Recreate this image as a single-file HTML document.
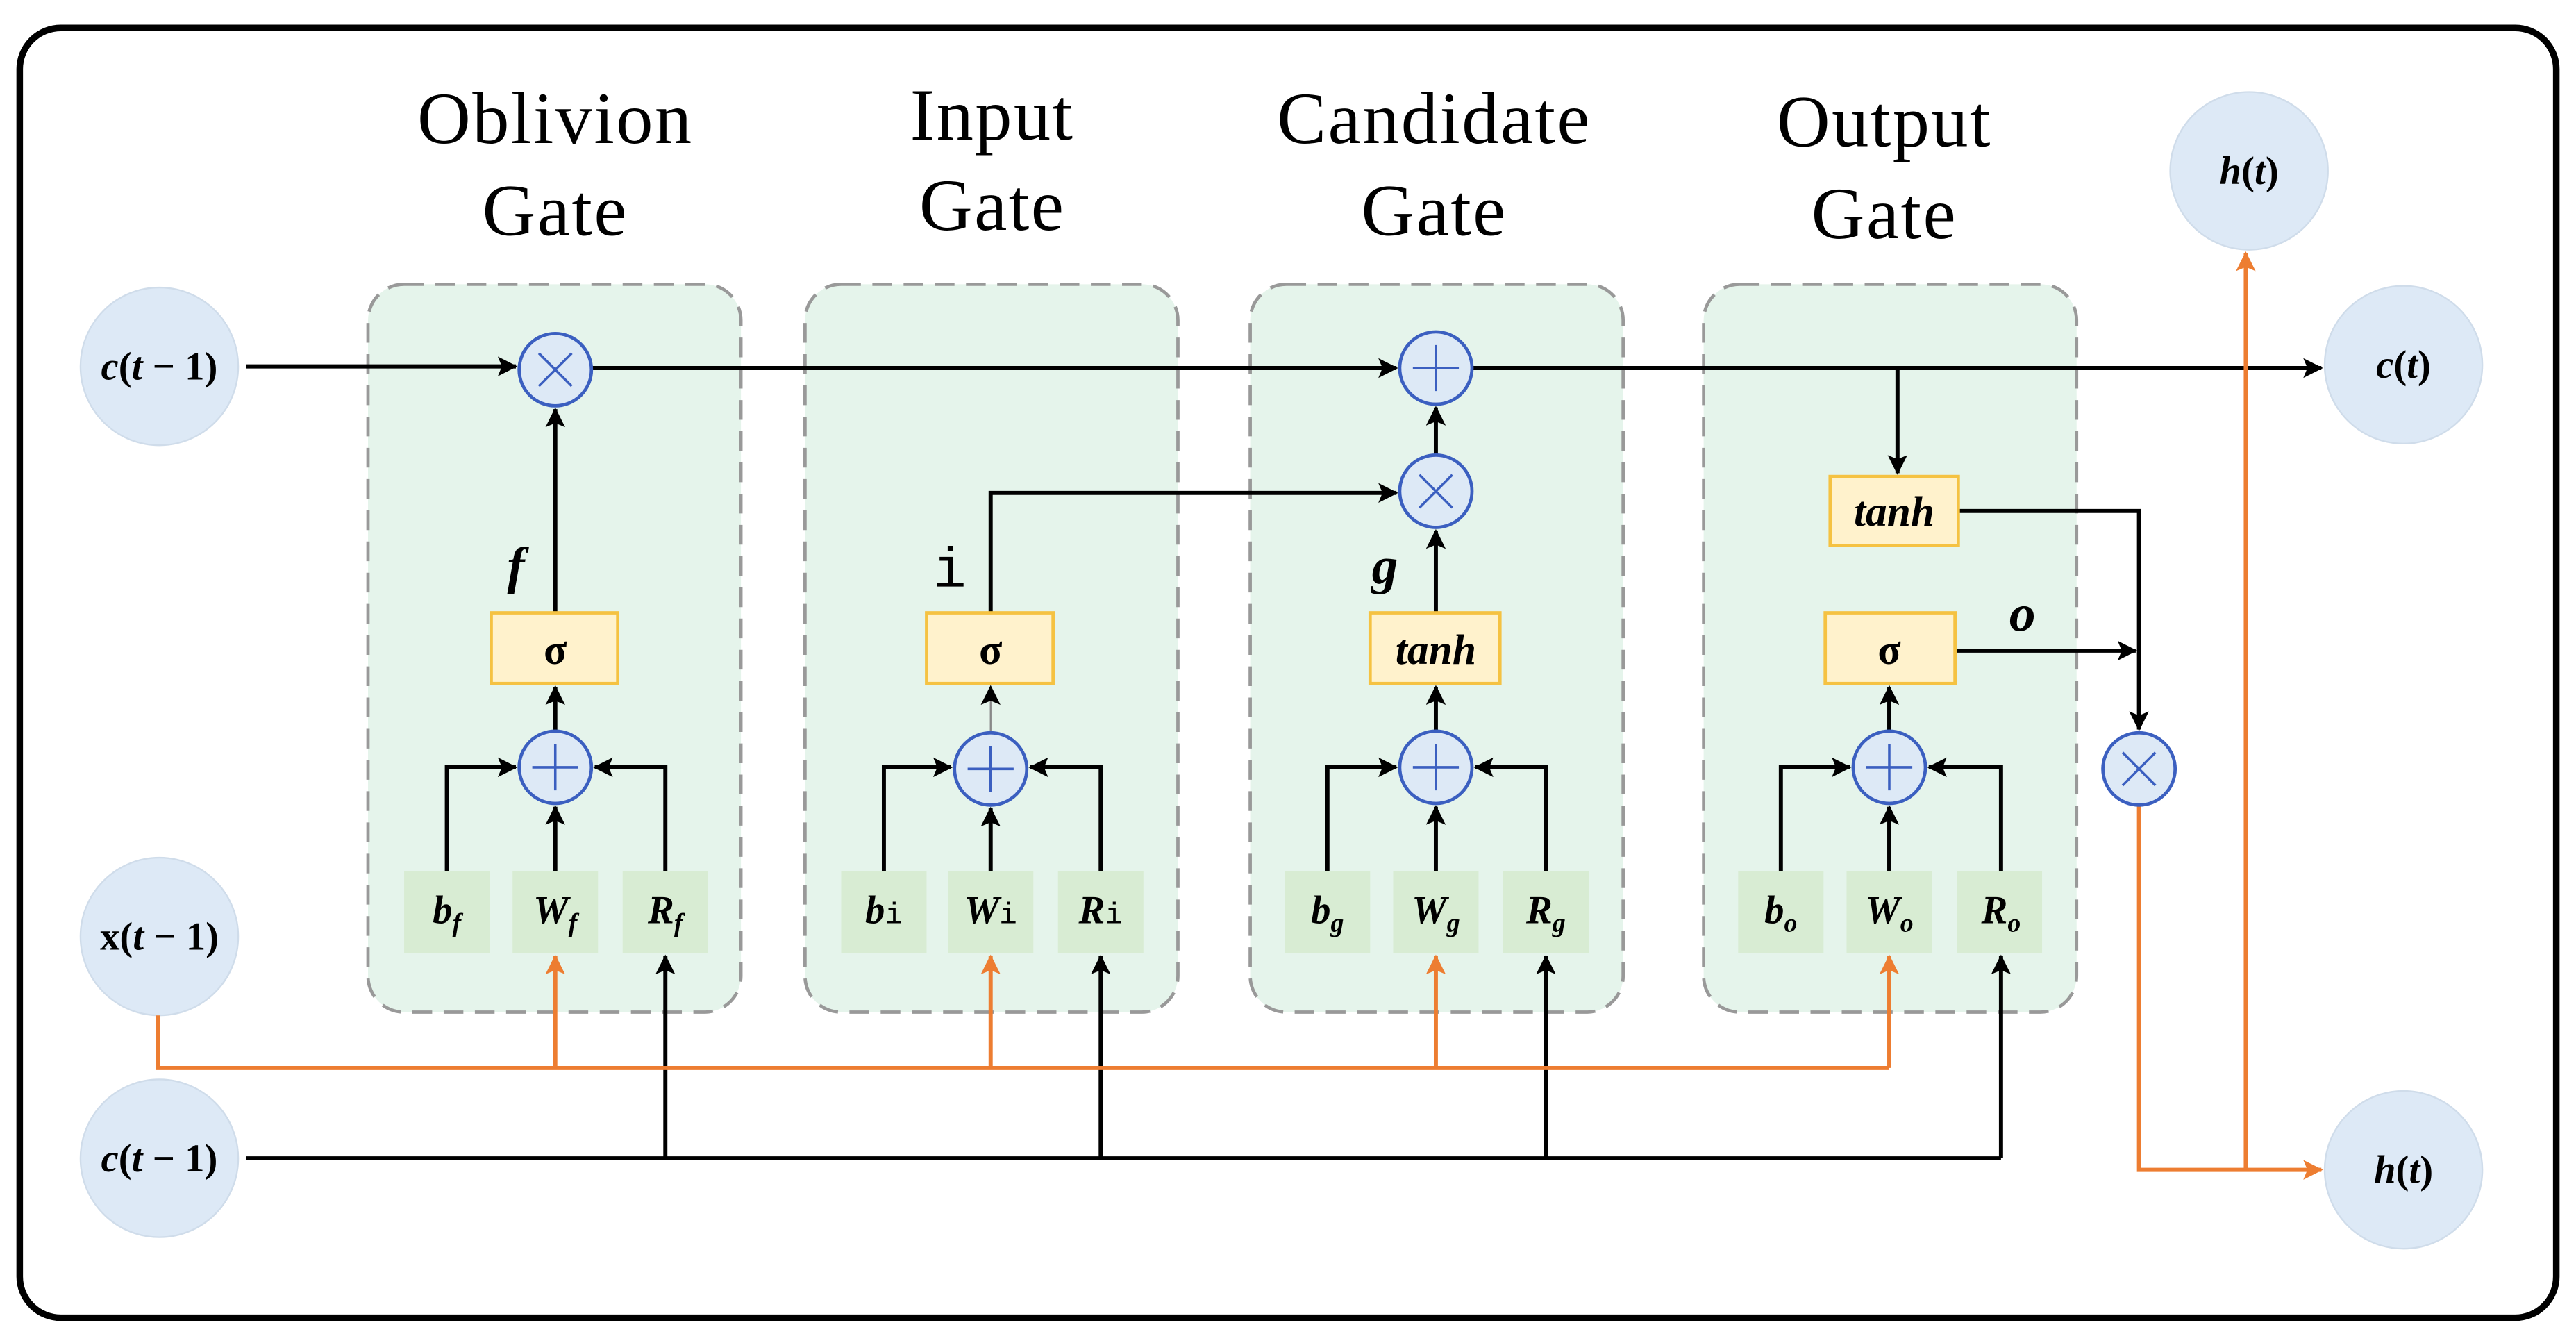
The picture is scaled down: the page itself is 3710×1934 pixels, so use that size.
<!DOCTYPE html>
<html><head><meta charset="utf-8"><style>
html,body{margin:0;padding:0;background:#fff;}
svg{display:block;}
.t{font-family:"Liberation Serif",serif;}
</style></head><body>
<svg width="3710" height="1934" viewBox="0 0 1568 817.4" preserveAspectRatio="none" xmlns="http://www.w3.org/2000/svg">
<defs>
<marker id="ab" markerWidth="12" markerHeight="12" refX="11" refY="6" orient="auto" markerUnits="userSpaceOnUse"><path d="M0,0 L12,6 L0,12 L2.5,6 z" fill="#000"/></marker>
<marker id="ao" markerWidth="12" markerHeight="12" refX="11" refY="6" orient="auto" markerUnits="userSpaceOnUse"><path d="M0,0 L12,6 L0,12 L2.5,6 z" fill="#ed7d31"/></marker>
<g id="plus"><circle r="22" fill="#dde9f6" stroke="#3b5fc0" stroke-width="2"/><path d="M-14,0 H14 M0,-14 V14" stroke="#3b5fc0" stroke-width="1.5"/></g>
<g id="times"><circle r="22" fill="#dde9f6" stroke="#3b5fc0" stroke-width="2"/><path d="M-10,-10 L10,10 M10,-10 L-10,10" stroke="#3b5fc0" stroke-width="1.5"/></g>
</defs>
<rect x="12" y="17" width="1544" height="785" rx="25" fill="#fff" stroke="#000" stroke-width="4"/>

<g fill="#e5f4eb" stroke="#999" stroke-width="2" stroke-dasharray="12,7">
<rect x="224" y="173" width="227" height="443" rx="22"/>
<rect x="490" y="173" width="227" height="443" rx="22"/>
<rect x="761" y="173" width="227" height="443" rx="22"/>
<rect x="1037" y="173" width="227" height="443" rx="22"/>
</g>

<g class="t" font-size="45" text-anchor="middle" fill="#000" letter-spacing="1">
<text x="338" y="87">Oblivion</text><text x="338" y="143">Gate</text>
<text x="604" y="85">Input</text><text x="604" y="140">Gate</text>
<text x="873" y="87">Candidate</text><text x="873" y="143">Gate</text>
<text x="1147" y="89">Output</text><text x="1147" y="145">Gate</text>
</g>

<g fill="#dde9f6" stroke="#cfdcea" stroke-width="1">
<circle cx="97" cy="223" r="48"/><circle cx="97" cy="570" r="48"/><circle cx="97" cy="705" r="48"/>
<circle cx="1369" cy="104" r="48"/><circle cx="1463" cy="222" r="48"/><circle cx="1463" cy="712" r="48"/>
</g>
<g class="t" font-size="24" font-weight="bold" text-anchor="middle">
<text x="97" y="231"><tspan font-style="italic">c</tspan>(<tspan font-style="italic">t</tspan> − 1)</text>
<text x="97" y="578">x(<tspan font-style="italic">t</tspan> − 1)</text>
<text x="97" y="713"><tspan font-style="italic">c</tspan>(<tspan font-style="italic">t</tspan> − 1)</text>
<text x="1369" y="112"><tspan font-style="italic">h</tspan>(<tspan font-style="italic">t</tspan>)</text>
<text x="1463" y="230"><tspan font-style="italic">c</tspan>(<tspan font-style="italic">t</tspan>)</text>
<text x="1463" y="720"><tspan font-style="italic">h</tspan>(<tspan font-style="italic">t</tspan>)</text>
</g>

<g stroke="#000" stroke-width="2.5" fill="none">
<path d="M150,223 H314" marker-end="url(#ab)"/>
<path d="M360,224 H850" marker-end="url(#ab)"/>
<path d="M896,224 H1413" marker-end="url(#ab)"/>
<path d="M338,373 V249" marker-end="url(#ab)"/>
<path d="M603,373 V300 H850" marker-end="url(#ab)"/>
<path d="M874,373 V323" marker-end="url(#ab)"/>
<path d="M874,277 V248" marker-end="url(#ab)"/>
<path d="M1155,224 V288" marker-end="url(#ab)"/>
<path d="M1192,311 H1302 V444" marker-end="url(#ab)"/>
<path d="M1190,396 H1300" marker-end="url(#ab)"/>
<path d="M150,705 H1218"/>
</g>
<path d="M603,445 V418" stroke="#888" stroke-width="1" marker-end="url(#ab)"/>

<g stroke="#000" stroke-width="2.5" fill="none">
<path d="M338,445 V418" marker-end="url(#ab)"/>
<path d="M874,445 V418" marker-end="url(#ab)"/>
<path d="M1150,445 V418" marker-end="url(#ab)"/>
<path d="M272,530 V467 H314" marker-end="url(#ab)"/>
<path d="M405,530 V467 H362" marker-end="url(#ab)"/>
<path d="M338,530 V491" marker-end="url(#ab)"/>
<path d="M538,530 V467 H579" marker-end="url(#ab)"/>
<path d="M670,530 V467 H627" marker-end="url(#ab)"/>
<path d="M603,530 V492" marker-end="url(#ab)"/>
<path d="M808,530 V467 H850" marker-end="url(#ab)"/>
<path d="M941,530 V467 H898" marker-end="url(#ab)"/>
<path d="M874,530 V491" marker-end="url(#ab)"/>
<path d="M1084,530 V467 H1126" marker-end="url(#ab)"/>
<path d="M1218,530 V467 H1174" marker-end="url(#ab)"/>
<path d="M1150,530 V491" marker-end="url(#ab)"/>
<path d="M405,705 V582" marker-end="url(#ab)"/>
<path d="M670,705 V582" marker-end="url(#ab)"/>
<path d="M941,705 V582" marker-end="url(#ab)"/>
<path d="M1218,705 V582" marker-end="url(#ab)"/>
</g>

<g stroke="#ed7d31" stroke-width="2.5" fill="none">
<path d="M96,618 V650 H1150"/>
<path d="M338,650 V582" marker-end="url(#ao)"/>
<path d="M603,650 V582" marker-end="url(#ao)"/>
<path d="M874,650 V582" marker-end="url(#ao)"/>
<path d="M1150,650 V582" marker-end="url(#ao)"/>
<path d="M1302,490 V712 H1413" marker-end="url(#ao)"/>
<path d="M1367,712 V154" marker-end="url(#ao)"/>
</g>

<use href="#times" x="338" y="225"/>
<use href="#plus" x="874" y="224"/>
<use href="#times" x="874" y="299"/>
<use href="#times" x="1302" y="468"/>
<use href="#plus" x="338" y="467"/>
<use href="#plus" x="603" y="468"/>
<use href="#plus" x="874" y="467"/>
<use href="#plus" x="1150" y="467"/>

<g fill="#fff2cc" stroke="#f5c242" stroke-width="2">
<rect x="299" y="373" width="77" height="43"/>
<rect x="564" y="373" width="77" height="43"/>
<rect x="834" y="373" width="79" height="43"/>
<rect x="1111" y="373" width="79" height="43"/>
<rect x="1114" y="290" width="78" height="42"/>
</g>
<g class="t" font-size="26" font-weight="bold" text-anchor="middle">
<text x="338" y="404">σ</text><text x="603" y="404">σ</text>
<text x="874" y="404" font-style="italic">tanh</text>
<text x="1150" y="404">σ</text>
<text x="1153" y="320" font-style="italic">tanh</text>
</g>

<g fill="#d8ecd3">
<rect x="246" y="530" width="52" height="50"/><rect x="312" y="530" width="52" height="50"/><rect x="379" y="530" width="52" height="50"/>
<rect x="512" y="530" width="52" height="50"/><rect x="577" y="530" width="52" height="50"/><rect x="644" y="530" width="52" height="50"/>
<rect x="782" y="530" width="52" height="50"/><rect x="848" y="530" width="52" height="50"/><rect x="915" y="530" width="52" height="50"/>
<rect x="1058" y="530" width="52" height="50"/><rect x="1124" y="530" width="52" height="50"/><rect x="1191" y="530" width="52" height="50"/>
</g>
<g class="t" font-size="24" font-weight="bold" font-style="italic" text-anchor="middle">
<text x="272" y="562">b<tspan font-size="16" dy="5">f</tspan></text>
<text x="338" y="562">W<tspan font-size="16" dy="5">f</tspan></text>
<text x="405" y="562">R<tspan font-size="16" dy="5">f</tspan></text>
<text x="538" y="562">b<tspan font-style="normal" font-weight="normal" font-family="Liberation Mono,monospace" font-size="18">i</tspan></text>
<text x="603" y="562">W<tspan font-style="normal" font-weight="normal" font-family="Liberation Mono,monospace" font-size="18">i</tspan></text>
<text x="670" y="562">R<tspan font-style="normal" font-weight="normal" font-family="Liberation Mono,monospace" font-size="18">i</tspan></text>
<text x="808" y="562">b<tspan font-size="16" dy="5">g</tspan></text>
<text x="874" y="562">W<tspan font-size="16" dy="5">g</tspan></text>
<text x="941" y="562">R<tspan font-size="16" dy="5">g</tspan></text>
<text x="1084" y="562">b<tspan font-size="16" dy="5">o</tspan></text>
<text x="1150" y="562">W<tspan font-size="16" dy="5">o</tspan></text>
<text x="1218" y="562">R<tspan font-size="16" dy="5">o</tspan></text>
</g>

<g class="t" font-size="32" font-weight="bold" font-style="italic" text-anchor="middle">
<text x="314" y="355">f</text>
<text x="843" y="355">g</text>
<text x="1231" y="384">o</text>
</g>
<text x="578" y="357" font-family="Liberation Mono,monospace" font-size="34" text-anchor="middle">i</text>
</svg>
</body></html>
